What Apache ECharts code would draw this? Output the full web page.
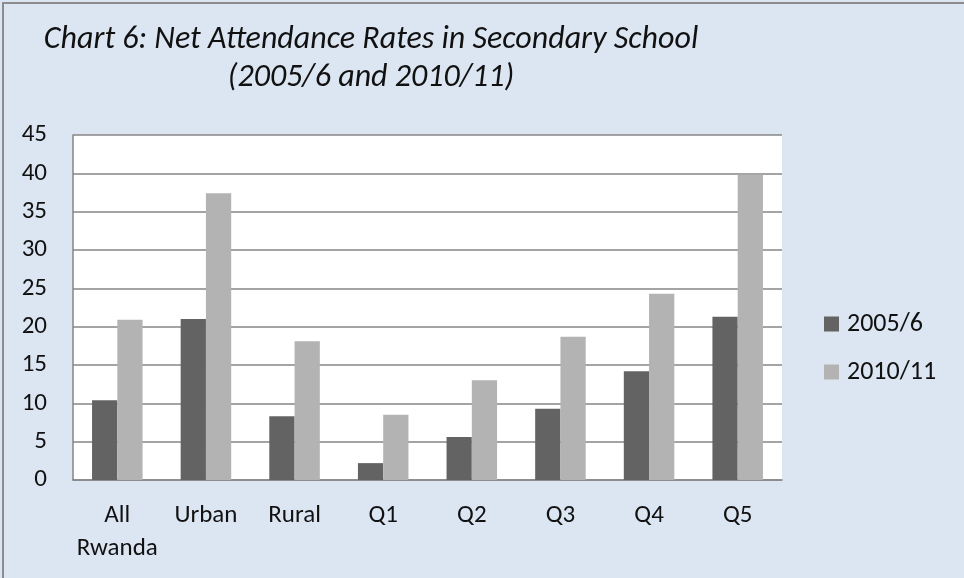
<!DOCTYPE html>
<html>
<head>
<meta charset="utf-8">
<style>
    html, body { margin: 0; padding: 0; background: #dce6f2; }
    #main { width: 964px; height: 578px; }
</style>
<script src="https://cdn.jsdelivr.net/npm/echarts@6/dist/echarts.min.js"></script>
</head>
<body>
<div id="main"></div>
<script>
// 数据
var categories = ['All\nRwanda', 'Urban', 'Rural', 'Q1', 'Q2', 'Q3', 'Q4', 'Q5'];
var seriesNames = ['2005/6', '2010/11'];
var rate2005 = [10.4, 21.0, 8.3, 2.2, 5.6, 9.3, 14.2, 21.3];
var rate2010 = [20.9, 37.4, 18.1, 8.5, 13.0, 18.7, 24.3, 39.8];

var fontName = "Carlito, Calibri, 'Open Sans', sans-serif";

var myChart = echarts.init(document.getElementById('main'));
var option = {
    backgroundColor: '#dce6f2',
    title: {
        text: 'Chart 6: Net Attendance Rates in Secondary School\n(2005/6 and 2010/11)',
        left: 366,
        top: 16,
        textAlign: 'center',
        textStyle: {
            fontFamily: fontName,
            fontStyle: 'italic',
            fontWeight: 'normal',
            fontSize: 32,
            lineHeight: 38,
            color: '#111'
        }
    },
    legend: {
        orient: 'vertical',
        left: 819,
        top: 304,
        itemWidth: 15,
        itemHeight: 15,
        itemGap: 18,
        icon: 'rect',
        data: seriesNames,
        textStyle: { fontFamily: fontName, fontSize: 26, lineHeight: 30, color: '#111', padding: [0, 0, 0, 3] }
    },
    graphic: [{
        type: 'rect',
        shape: { x: 3, y: 3, width: 1000, height: 1000 },
        style: { fill: null, stroke: '#8c8c8c', lineWidth: 2 },
        silent: true
    }],
    grid: {
        left: 73,
        right: 182,
        top: 135,
        bottom: 98,
        show: true,
        backgroundColor: '#ffffff',
        borderWidth: 0
    },
    xAxis: {
        type: 'category',
        data: categories,
        axisLine: { lineStyle: { color: '#868686', width: 1.5 } },
        axisTick: { show: false },
        axisLabel: {
            fontFamily: fontName,
            fontSize: 25,
            lineHeight: 33,
            color: '#111',
            margin: 19,
            interval: 0
        }
    },
    yAxis: {
        type: 'value',
        min: 0,
        max: 45,
        interval: 5,
        axisLine: { show: true, lineStyle: { color: '#868686', width: 1.5 } },
        axisTick: { show: false },
        splitLine: { lineStyle: { color: '#868686', width: 1.5 } },
        axisLabel: {
            fontFamily: fontName,
            fontSize: 25,
            color: '#111',
            margin: 26
        }
    },
    series: [
        {
            name: seriesNames[0],
            type: 'bar',
            data: rate2005,
            barGap: '0%',
            barCategoryGap: '43%',
            itemStyle: { color: '#636363' }
        },
        {
            name: seriesNames[1],
            type: 'bar',
            data: rate2010,
            itemStyle: { color: '#b3b3b3' }
        }
    ]
};
myChart.setOption(option);
</script>
</body>
</html>
